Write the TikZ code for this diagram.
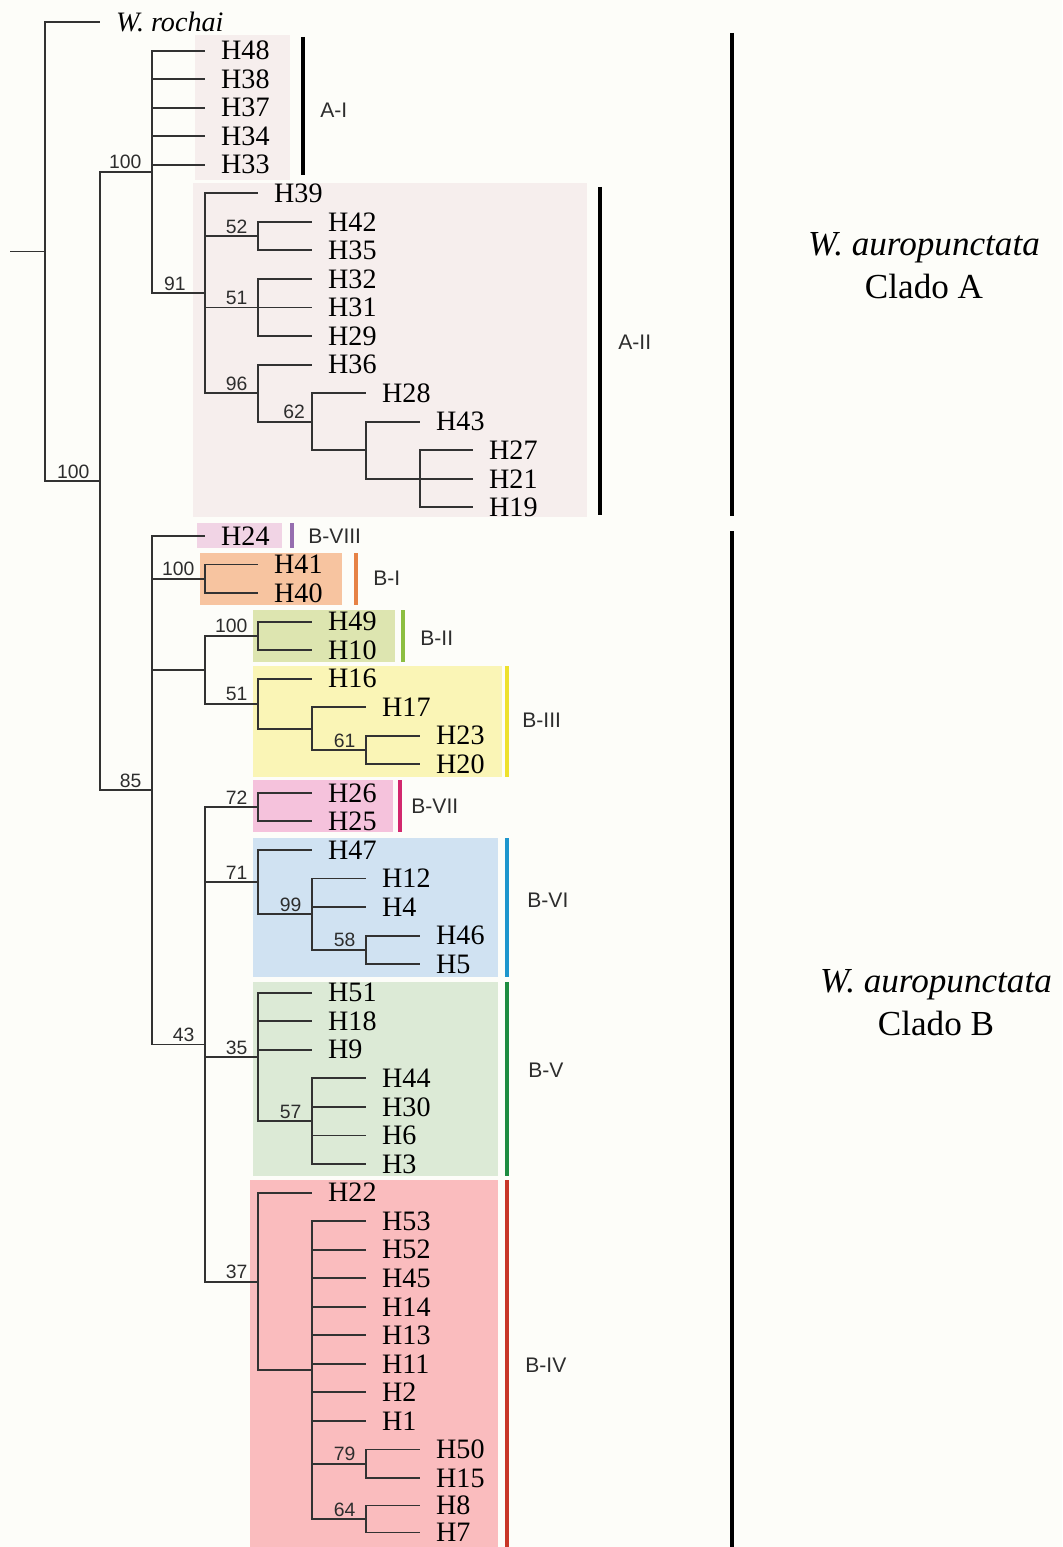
\documentclass[tikz,border=0pt]{standalone}
\usepackage{fontspec}
\setmainfont{Liberation Serif}
\setsansfont{Liberation Sans}
\usepackage{tikz}

\definecolor{paper}{RGB}{253,253,249}
\definecolor{treegray}{RGB}{50,50,50}
\definecolor{labgray}{RGB}{45,45,45}
\definecolor{boxA}{RGB}{246,238,237}
\definecolor{boxBVIII}{RGB}{241,212,229}
\definecolor{barBVIII}{RGB}{150,110,175}
\definecolor{boxBI}{RGB}{247,196,160}
\definecolor{barBI}{RGB}{230,130,70}
\definecolor{boxBII}{RGB}{221,229,176}
\definecolor{barBII}{RGB}{140,190,65}
\definecolor{boxBIII}{RGB}{250,245,182}
\definecolor{barBIII}{RGB}{238,225,45}
\definecolor{boxBVII}{RGB}{245,194,220}
\definecolor{barBVII}{RGB}{210,40,110}
\definecolor{boxBVI}{RGB}{208,226,242}
\definecolor{barBVI}{RGB}{30,150,205}
\definecolor{boxBV}{RGB}{220,234,214}
\definecolor{barBV}{RGB}{30,140,65}
\definecolor{boxBIV}{RGB}{250,188,190}
\definecolor{barBIV}{RGB}{200,55,40}

\begin{document}
\begin{tikzpicture}[
x=0.02cm,y=-0.02cm,
branch/.style={draw=treegray,line width=1.1pt},
leaf/.style={anchor=west,inner xsep=9pt,inner ysep=0pt,font=\fontsize{16}{16}\selectfont},
boot/.style={pos=1,anchor=south east,inner sep=1pt,xshift=-4.5pt,font=\sffamily\fontsize{11}{11}\selectfont,text=labgray},
clade/.style={anchor=west,inner sep=0pt,font=\sffamily\fontsize{12}{12}\selectfont,text=labgray},
bigbar/.style={line width=2.8pt,black},
bar/.style={line width=2.3pt},
taxon/.style={align=center,font=\fontsize{20}{24.4}\selectfont}]

\fill[paper] (0,0) rectangle (1062,1547);
\useasboundingbox (0,0) rectangle (1062,1547);

% coloured boxes
\fill[boxA] (195,35) rectangle (290,180);
\fill[boxA] (193,183) rectangle (587,517);
\fill[boxBVIII] (197,523) rectangle (282,548);
\fill[boxBI] (200,553) rectangle (342,605);
\fill[boxBII] (253,610) rectangle (395,662);
\fill[boxBIII] (253,666) rectangle (502,777);
\fill[boxBVII] (253,780) rectangle (393,832);
\fill[boxBVI] (253,838) rectangle (498,977);
\fill[boxBV] (253,982) rectangle (498,1176);
\fill[boxBIV] (250,1180) rectangle (498,1547);

% internal nodes
\coordinate (stub) at (10,251.5);
\coordinate (R) at (45,251.5);
\coordinate (AB) at (100,481.0);
\coordinate (A) at (152,171.9);
\coordinate (A2) at (205,293.2);
\coordinate (A2a) at (258,236.1);
\coordinate (A2b) at (258,307.5);
\coordinate (A2c) at (258,393.2);
\coordinate (A2d) at (312,421.7);
\coordinate (A2e) at (366,450.3);
\coordinate (A2f) at (420,478.8);
\coordinate (B) at (152,790.2);
\coordinate (B1) at (205,578.7);
\coordinate (B23) at (205,669.7);
\coordinate (B2) at (258,635.8);
\coordinate (B3) at (258,703.6);
\coordinate (B3a) at (312,728.6);
\coordinate (B3b) at (366,750.0);
\coordinate (B4567) at (205,1044.5);
\coordinate (B7) at (258,807.1);
\coordinate (B6) at (258,882.1);
\coordinate (B6a) at (312,914.2);
\coordinate (B6b) at (366,949.9);
\coordinate (B5) at (258,1056.9);
\coordinate (B5a) at (312,1121.2);
\coordinate (B4) at (258,1281.8);
\coordinate (B4a) at (312,1370.0);
\coordinate (B4b) at (366,1463.8);
\coordinate (B4c) at (366,1519.0);

% leaves
\node[leaf] (wr) at (100,22) {\textit{W. rochai}};
\node[leaf] (H48) at (205,50.6) {H48};
\node[leaf] (H38) at (205,79.1) {H38};
\node[leaf] (H37) at (205,107.7) {H37};
\node[leaf] (H34) at (205,136.2) {H34};
\node[leaf] (H33) at (205,164.8) {H33};
\node[leaf] (H39) at (258,193.3) {H39};
\node[leaf] (H42) at (312,221.9) {H42};
\node[leaf] (H35) at (312,250.4) {H35};
\node[leaf] (H32) at (312,279.0) {H32};
\node[leaf] (H31) at (312,307.5) {H31};
\node[leaf] (H29) at (312,336.1) {H29};
\node[leaf] (H36) at (312,364.6) {H36};
\node[leaf] (H28) at (366,393.2) {H28};
\node[leaf] (H43) at (420,421.7) {H43};
\node[leaf] (H27) at (473,450.3) {H27};
\node[leaf] (H21) at (473,478.8) {H21};
\node[leaf] (H19) at (473,507.4) {H19};
\node[leaf] (H24) at (205,535.9) {H24};
\node[leaf] (H41) at (258,564.5) {H41};
\node[leaf] (H40) at (258,593.0) {H40};
\node[leaf] (H49) at (312,621.6) {H49};
\node[leaf] (H10) at (312,650.1) {H10};
\node[leaf] (H16) at (312,678.7) {H16};
\node[leaf] (H17) at (366,707.2) {H17};
\node[leaf] (H23) at (420,735.8) {H23};
\node[leaf] (H20) at (420,764.3) {H20};
\node[leaf] (H26) at (312,792.9) {H26};
\node[leaf] (H25) at (312,821.4) {H25};
\node[leaf] (H47) at (312,850.0) {H47};
\node[leaf] (H12) at (366,878.5) {H12};
\node[leaf] (H4) at (366,907.1) {H4};
\node[leaf] (H46) at (420,935.6) {H46};
\node[leaf] (H5) at (420,964.2) {H5};
\node[leaf] (H51) at (312,992.7) {H51};
\node[leaf] (H18) at (312,1021.3) {H18};
\node[leaf] (H9) at (312,1049.8) {H9};
\node[leaf] (H44) at (366,1078.4) {H44};
\node[leaf] (H30) at (366,1106.9) {H30};
\node[leaf] (H6) at (366,1135.5) {H6};
\node[leaf] (H3) at (366,1164.0) {H3};
\node[leaf] (H22) at (312,1192.6) {H22};
\node[leaf] (H53) at (366,1221.1) {H53};
\node[leaf] (H52) at (366,1249.7) {H52};
\node[leaf] (H45) at (366,1278.2) {H45};
\node[leaf] (H14) at (366,1306.8) {H14};
\node[leaf] (H13) at (366,1335.3) {H13};
\node[leaf] (H11) at (366,1363.9) {H11};
\node[leaf] (H2) at (366,1392.4) {H2};
\node[leaf] (H1) at (366,1421.0) {H1};
\node[leaf] (H50) at (420,1449.5) {H50};
\node[leaf] (H15) at (420,1478.1) {H15};
\node[leaf] (H8) at (420,1505.5) {H8};
\node[leaf] (H7) at (420,1532.5) {H7};

% branches, clado A
\draw[branch] (stub) -- (R);
\draw[branch] (R) |- (wr.west);
\draw[branch] (R) |- node[boot] {100} (AB);
\draw[branch] (AB) |- node[boot] {100} (A);
\foreach \c in {H48,H38,H37,H34,H33} \draw[branch] (A) |- (\c.west);
\draw[branch] (A) |- node[boot,xshift=-5pt] {91} (A2);
\draw[branch] (A2) |- (H39.west);
\draw[branch] (A2) |- node[boot] {52} (A2a);
\draw[branch] (A2) |- node[boot] {51} (A2b);
\draw[branch] (A2) |- node[boot] {96} (A2c);
\draw[branch] (A2a) |- (H42.west);
\draw[branch] (A2a) |- (H35.west);
\foreach \c in {H32,H31,H29} \draw[branch] (A2b) |- (\c.west);
\draw[branch] (A2c) |- (H36.west);
\draw[branch] (A2c) |- node[boot,xshift=2pt] {62} (A2d);
\draw[branch] (A2d) |- (H28.west);
\draw[branch] (A2d) |- (A2e);
\draw[branch] (A2e) |- (H43.west);
\draw[branch] (A2e) |- (A2f);
\foreach \c in {H27,H21,H19} \draw[branch] (A2f) |- (\c.west);

% branches, clado B
\draw[branch] (AB) |- node[boot] {85} (B);
\draw[branch] (B) |- (H24.west);
\draw[branch] (B) |- node[boot] {100} (B1);
\draw[branch] (B1) |- (H41.west);
\draw[branch] (B1) |- (H40.west);
\draw[branch] (B) |- (B23);
\draw[branch] (B23) |- node[boot] {100} (B2);
\draw[branch] (B2) |- (H49.west);
\draw[branch] (B2) |- (H10.west);
\draw[branch] (B23) |- node[boot] {51} (B3);
\draw[branch] (B3) |- (H16.west);
\draw[branch] (B3) |- (B3a);
\draw[branch] (B3a) |- (H17.west);
\draw[branch] (B3a) |- node[boot] {61} (B3b);
\draw[branch] (B3b) |- (H23.west);
\draw[branch] (B3b) |- (H20.west);
\draw[branch] (B) |- node[boot] {43} (B4567);
\draw[branch] (B4567) |- node[boot] {72} (B7);
\draw[branch] (B7) |- (H26.west);
\draw[branch] (B7) |- (H25.west);
\draw[branch] (B4567) |- node[boot] {71} (B6);
\draw[branch] (B6) |- (H47.west);
\draw[branch] (B6) |- node[boot] {99} (B6a);
\draw[branch] (B6a) |- (H12.west);
\draw[branch] (B6a) |- (H4.west);
\draw[branch] (B6a) |- node[boot] {58} (B6b);
\draw[branch] (B6b) |- (H46.west);
\draw[branch] (B6b) |- (H5.west);
\draw[branch] (B4567) |- node[boot] {35} (B5);
\foreach \c in {H51,H18,H9} \draw[branch] (B5) |- (\c.west);
\draw[branch] (B5) |- node[boot] {57} (B5a);
\foreach \c in {H44,H30,H6,H3} \draw[branch] (B5a) |- (\c.west);
\draw[branch] (B4567) |- node[boot] {37} (B4);
\draw[branch] (B4) |- (H22.west);
\draw[branch] (B4) |- (B4a);
\foreach \c in {H53,H52,H45,H14,H13,H11,H2,H1} \draw[branch] (B4a) |- (\c.west);
\draw[branch] (B4a) |- node[boot] {79} (B4b);
\draw[branch] (B4b) |- (H50.west);
\draw[branch] (B4b) |- (H15.west);
\draw[branch] (B4a) |- node[boot] {64} (B4c);
\draw[branch] (B4c) |- (H8.west);
\draw[branch] (B4c) |- (H7.west);

% clade bars and labels
\draw[bigbar] (303,37) -- (303,175);
\node[clade] (AI) at (320,110) {A-I};
\draw[bigbar] (600,187) -- (600,515);
\node[clade] (AII) at (618,342) {A-II};
\draw[bar,barBVIII] (292,523) -- (292,548);
\node[clade] (BVIII) at (308,536) {B-VIII};
\draw[bar,barBI] (356,553) -- (356,605);
\node[clade] (BI) at (373,578) {B-I};
\draw[bar,barBII] (403,610) -- (403,662);
\node[clade] (BII) at (420,638) {B-II};
\draw[bar,barBIII] (507,666) -- (507,777);
\node[clade] (BIII) at (522,720) {B-III};
\draw[bar,barBVII] (400,780) -- (400,832);
\node[clade] (BVII) at (411,806) {B-VII};
\draw[bar,barBVI] (507,838) -- (507,977);
\node[clade] (BVI) at (527,900) {B-VI};
\draw[bar,barBV] (507,982) -- (507,1176);
\node[clade] (BV) at (528,1070) {B-V};
\draw[bar,barBIV] (507,1180) -- (507,1547);
\node[clade] (BIV) at (525,1365) {B-IV};

% species bars
\draw[bigbar] (732,33) -- (732,516);
\draw[bigbar] (732,531) -- (732,1547);
\node[taxon] (cladoA) at (924,266) {\textit{W. auropunctata}\\Clado A};
\node[taxon] (cladoB) at (936,1003) {\textit{W. auropunctata}\\Clado B};

\end{tikzpicture}
\end{document}
